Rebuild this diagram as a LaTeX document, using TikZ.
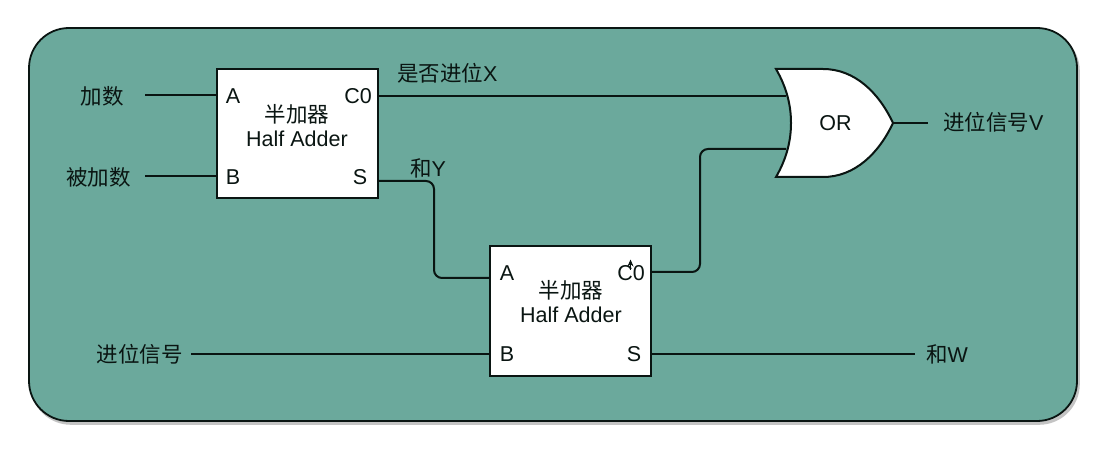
\documentclass[tikz,border=0pt]{standalone}
\usepackage{fontspec}
\usetikzlibrary{arrows.meta}
\setmainfont{Liberation Sans}
\newfontfamily\cjk{Noto Sans CJK SC}
\definecolor{panel}{HTML}{6BA99C}
\definecolor{ink}{HTML}{0A1512}
\definecolor{shade}{HTML}{C4C4C4}
\tikzset{
  panelbox/.style={draw=ink,line width=1.8pt,fill=panel,rounded corners=40pt},
  adder/.style={draw=ink,line width=2pt,fill=white,minimum width=161pt,minimum height=129.5pt,inner sep=0pt,outer sep=0pt,
    align=center,text=ink},
  txt/.style={font=\fontsize{21.5}{25}\selectfont,text=ink,inner sep=0pt},
  wire/.style={draw=ink,line width=2pt},
  bendwire/.style={wire,rounded corners=8pt},
  thinwire/.style={draw=ink,line width=1.1pt},
  gate/.style={draw=ink,line width=2pt,fill=white}
}
\begin{document}
\begin{tikzpicture}[x=1pt,y=-1pt]
\useasboundingbox (0,0) rectangle (1116,454);
\fill[white] (0,0) rectangle (1116,454);
\draw[draw=shade,fill=shade,line width=1.6pt,rounded corners=40pt] (31,31) rectangle (1079,424);
\path[panelbox] (29,28) rectangle (1077,421);

% adders
\node[adder,anchor=north west] (ha1) at (217,69) {};
\node[adder,anchor=north west] (ha2) at (490,246) {};

\node[txt] (ha1cn) at (297,114) {\cjk 半加器};
\node[txt] (ha1en) at (297,139) {Half Adder};
\node[txt] (ha2cn) at (571,290) {\cjk 半加器};
\node[txt] (ha2en) at (571,315) {Half Adder};

% ports
\node[txt] (p1a) at (233,96) {A};
\node[txt] (p1c) at (358,96) {C0};
\node[txt] (p1b) at (233,177) {B};
\node[txt] (p1s) at (360,177) {S};
\node[txt] (p2a) at (507,273) {A};
\node[txt] (p2c) at (631,273) {C0};
\node[txt] (p2b) at (507,354) {B};
\node[txt] (p2s) at (634,354) {S};

% pins
\coordinate (i1a) at (217,95);
\coordinate (o1c) at (378,96);
\coordinate (i1b) at (217,176);
\coordinate (o1s) at (378,181);
\coordinate (i2a) at (490,278);
\coordinate (o2c) at (651,272);
\coordinate (i2b) at (490,354);
\coordinate (o2s) at (651,354);
\coordinate (g1) at (786,96);
\coordinate (g2) at (786,149);
\coordinate (gout) at (893,123);
\coordinate (m1) at (434,181);
\coordinate (m2) at (434,278);
\coordinate (m3) at (700,272);
\coordinate (m4) at (700,149);

% outer labels
\node[txt,anchor=east,inner xsep=21pt] (inA) at (145,96) {\cjk 加数};
\node[txt,anchor=east,inner xsep=14pt] (inB) at (145,177) {\cjk 被加数};
\node[txt,anchor=east,inner xsep=8pt] (inC) at (191,354) {\cjk 进位信号};
\node[txt,anchor=west,inner xsep=11pt] (outW) at (915,354) {{\cjk 和}W};
\node[txt,anchor=west,inner xsep=15pt] (outV) at (928,122) {{\cjk 进位信号}V};
\node[txt,anchor=west] (lx) at (397,73) {{\cjk 是否进位}X};
\node[txt,anchor=west] (ly) at (410,168) {{\cjk 和}Y};

% connectors
\draw[wire] (inA.east |- i1a) -- (i1a);
\draw[thinwire] (inB.east |- i1b) -- (i1b);
\draw[wire] (inC.east |- i2b) -- (i2b);
\draw[wire] (o2s) -- (outW.west |- o2s);
\draw[wire] (o1c) -- (g1);
\draw[bendwire] (o1s) -- (m1) -- (m2) -- (i2a);
\draw[bendwire] (o2c) -- (m3) -- (m4) -- (g2);
\draw[wire,line width=1.5pt] (gout) -- (outV.west |- gout);

% OR gate
\path[gate] (776,69) -- (823,69) .. controls (855,69) and (879,93) .. (893,123)
  .. controls (879,153) and (855,177) .. (823,177) -- (776,177)
  .. controls (787,158) and (791,140) .. (791,123)
  .. controls (791,106) and (787,88) .. cycle;
\node[txt] (orl) at (835.5,123) {OR};

% stray arrowhead on the second C0
\coordinate (s1) at (630.5,270);
\coordinate (s2) at (630.5,259.5);
\draw[draw=ink,line width=0.9pt,-{Stealth[length=7pt,width=6pt]}] (s1) -- (s2);
\end{tikzpicture}
\end{document}
